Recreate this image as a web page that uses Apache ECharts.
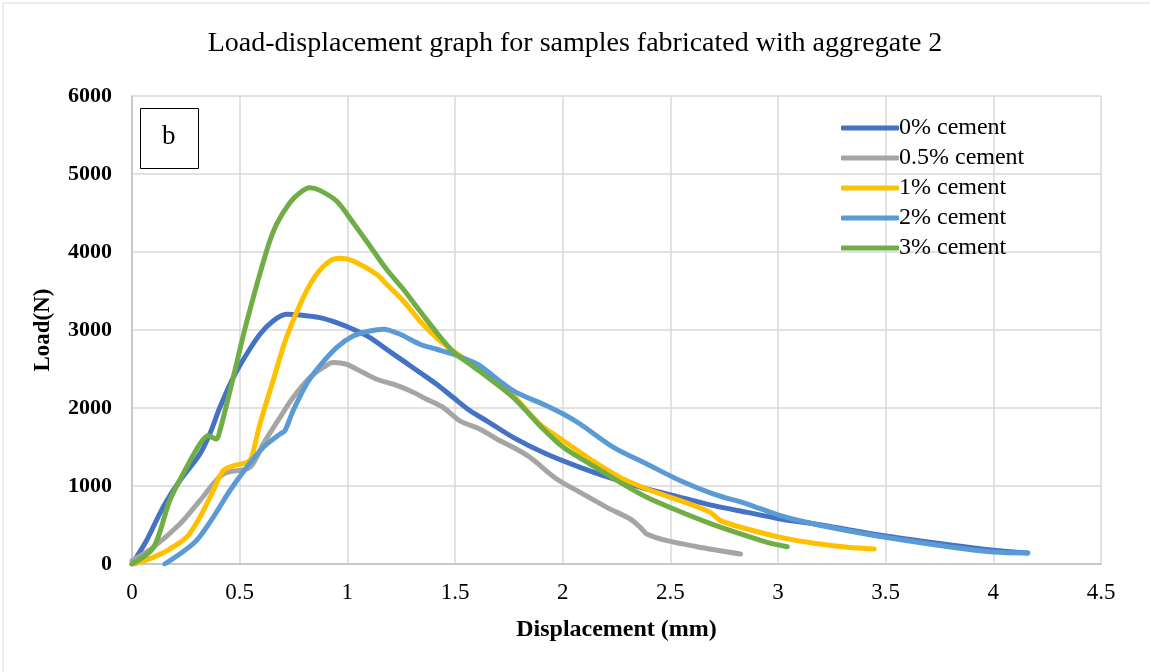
<!DOCTYPE html>
<html><head><meta charset="utf-8">
<script src="https://cdn.jsdelivr.net/npm/echarts@6/dist/echarts.min.js"></script>
<style>html,body{margin:0;padding:0;background:#fff}#c{width:1150px;height:672px}</style>
</head><body><div id="c"></div>
<script>
const seriesNames = ["0% cement","0.5% cement","1% cement","2% cement","3% cement"];
const seriesColors = ["#4472C4","#A5A5A5","#FFC000","#5B9BD5","#70AD47"];
const cement0 = [[0,0],[0.067,299],[0.144,726],[0.222,1067],[0.315,1409],[0.361,1665],[0.408,2006],[0.47,2390],[0.532,2689],[0.594,2946],[0.655,3116],[0.717,3202],[0.779,3193],[0.872,3159],[0.95,3095],[1.027,3010],[1.105,2903],[1.182,2753],[1.26,2604],[1.337,2455],[1.415,2305],[1.492,2134],[1.57,1964],[1.647,1836],[1.77,1624],[1.925,1410],[2.081,1239],[2.236,1090],[2.391,962],[2.547,855],[2.702,748],[2.857,662],[3.012,577],[3.2,500],[3.5,360],[3.8,245],[4.0,178],[4.16,140]];
const cement05 = [[0,43],[0.098,213],[0.222,512],[0.315,811],[0.423,1153],[0.547,1238],[0.609,1537],[0.687,1878],[0.748,2134],[0.826,2390],[0.888,2519],[0.934,2583],[0.996,2561],[1.058,2476],[1.136,2369],[1.213,2305],[1.291,2220],[1.368,2113],[1.446,2006],[1.523,1836],[1.616,1729],[1.709,1580],[1.77,1496],[1.848,1368],[1.972,1090],[2.081,919],[2.205,726],[2.314,577],[2.36,470],[2.391,385],[2.484,299],[2.624,222],[2.826,128]];
const cement1 = [[0.012,0],[0.098,85],[0.175,192],[0.253,342],[0.315,598],[0.377,939],[0.423,1195],[0.47,1259],[0.532,1302],[0.555,1366],[0.594,1793],[0.655,2348],[0.717,2903],[0.795,3415],[0.857,3714],[0.919,3885],[0.965,3919],[1.027,3885],[1.136,3714],[1.182,3586],[1.26,3372],[1.337,3116],[1.415,2900],[1.492,2730],[1.57,2580],[1.615,2500],[1.755,2201],[1.894,1795],[2.003,1581],[2.127,1346],[2.267,1111],[2.391,962],[2.547,812],[2.686,662],[2.733,556],[2.857,449],[3.012,342],[3.168,265],[3.323,214],[3.447,192]];
const cement2 = [[0.152,0],[0.222,128],[0.299,299],[0.377,598],[0.454,939],[0.532,1238],[0.609,1494],[0.687,1665],[0.71,1708],[0.748,1964],[0.81,2305],[0.872,2540],[0.95,2775],[1.027,2924],[1.105,2988],[1.167,3010],[1.245,2946],[1.337,2818],[1.415,2753],[1.492,2689],[1.57,2604],[1.615,2543],[1.77,2222],[1.925,2030],[2.003,1923],[2.081,1795],[2.236,1496],[2.391,1282],[2.547,1068],[2.702,897],[2.857,769],[3.012,620],[3.168,513],[3.323,427],[3.49,346],[3.8,218],[4.0,154],[4.16,141]];
const cement3 = [[0,0],[0.1,213],[0.175,811],[0.253,1238],[0.315,1537],[0.353,1644],[0.392,1601],[0.408,1708],[0.47,2390],[0.53,3074],[0.625,4013],[0.671,4354],[0.733,4632],[0.78,4760],[0.826,4824],[0.872,4790],[0.95,4653],[1.027,4376],[1.105,4077],[1.182,3778],[1.26,3522],[1.337,3244],[1.415,2967],[1.492,2720],[1.57,2560],[1.615,2470],[1.77,2137],[1.894,1774],[2.003,1496],[2.127,1282],[2.267,1047],[2.391,855],[2.516,705],[2.671,534],[2.826,385],[2.95,278],[3.043,222]];
const allData = [cement0, cement05, cement1, cement2, cement3];
const xTicks = {min:0, max:4.5, interval:0.5};
const yTicks = {min:0, max:6000, interval:1000};

const chart = echarts.init(document.getElementById('c'), null, {renderer:'canvas'});
const font = '"Liberation Serif","Times New Roman",serif';
chart.setOption({
  backgroundColor:'#fff',
  animation:false,
  title:{text:'Load-displacement graph for samples fabricated with aggregate 2', left:'center', top:25,
    textStyle:{fontFamily:font, fontSize:28, fontWeight:'normal', color:'#000'}},
  legend:{data:seriesNames, orient:'vertical', left:836, top:111, itemWidth:58, itemHeight:5, itemGap:6,
    icon:'roundRect', textStyle:{fontFamily:font, fontSize:24, color:'#000', padding:[0,0,0,-5]}},
  grid:{left:132, right:49, top:96, bottom:108},
  xAxis:{type:'value', min:xTicks.min, max:xTicks.max, interval:xTicks.interval,
    name:'Displacement (mm)', nameLocation:'middle', nameGap:54,
    nameTextStyle:{fontFamily:font, fontSize:24, fontWeight:'bold', color:'#000'},
    axisLine:{show:true, lineStyle:{color:'#bfbfbf', width:1.5}}, axisTick:{show:false},
    axisLabel:{fontFamily:font, fontSize:23, color:'#000', margin:17},
    splitLine:{show:true, lineStyle:{color:'#d9d9d9', width:1.5}}},
  yAxis:{type:'value', min:yTicks.min, max:yTicks.max, interval:yTicks.interval,
    name:'Load(N)', nameLocation:'middle', nameGap:77,
    nameTextStyle:{fontFamily:font, fontSize:23, fontWeight:'bold', color:'#000'},
    axisLine:{show:true, lineStyle:{color:'#bfbfbf', width:1.5}}, axisTick:{show:false},
    axisLabel:{fontFamily:font, fontSize:22, fontWeight:'bold', color:'#000', margin:20, formatter:v=>String(v)},
    splitLine:{show:true, lineStyle:{color:'#d9d9d9', width:1.5}}},
  graphic:[
    {type:'rect', left:0.5, top:0.5, shape:{width:1148, height:670}, style:{fill:'none', stroke:'#d9d9d9', lineWidth:1}, silent:true},
    {type:'rect', left:140, top:108, shape:{width:58, height:60}, style:{fill:'#fff', stroke:'#000', lineWidth:1}, z:10},
    {type:'text', left:162, top:123, style:{text:'b', fontFamily:font, fontSize:27, fill:'#000'}, z:11}
  ],
  series: allData.map((d,i)=>({
    name:seriesNames[i], type:'line', data:d, showSymbol:false, smooth:0.3,
    lineStyle:{color:seriesColors[i], width:5, cap:'round', join:'round'},
    itemStyle:{color:seriesColors[i]}
  }))
});
</script></body></html>
